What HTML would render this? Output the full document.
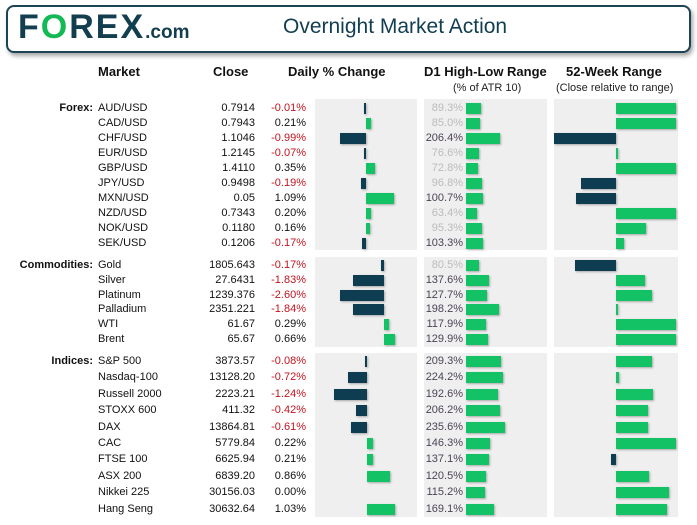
<!DOCTYPE html>
<html><head><meta charset="utf-8">
<style>
body{margin:0;width:697px;height:525px;background:#fff;font-family:"Liberation Sans",Arial,sans-serif;position:relative;overflow:hidden}
.a{position:absolute;white-space:nowrap}
#hdr{left:6px;top:5px;width:681px;height:44px;border:2px solid #1d4455;border-radius:8px;box-shadow:2px 3px 4px rgba(0,0,0,0.35);background:#fff}
.logo{left:18px;top:8px;font-size:34px;font-weight:bold;color:#123e50;letter-spacing:2px}
.com{font-size:19px;letter-spacing:0}
.title{left:283px;top:15px;font-size:21px;color:#123e50}
.ch{font-size:13px;font-weight:bold;color:#111;top:64px}
.sub{font-size:11px;color:#222;top:82px}
.panel{position:absolute;background:#efefef}
.t{position:absolute;font-size:11px;color:#111;line-height:12px;white-space:nowrap}
.neg{color:#c0151f}
.bar{position:absolute;height:11px;box-shadow:1px 1px 2px rgba(0,0,0,0.3)}
</style></head><body>
<div class="a" id="hdr"></div>
<div class="a logo">F<span style="color:#13b955">O</span>REX<span class="com">.com</span></div>
<div class="a title">Overnight Market Action</div>
<div class="a ch" style="left:98px">Market</div>
<div class="a ch" style="left:213px">Close</div>
<div class="a ch" style="left:288px">Daily % Change</div>
<div class="a ch" style="left:424px">D1 High-Low Range</div>
<div class="a sub" style="left:453px">(% of ATR 10)</div>
<div class="a ch" style="left:566px">52-Week Range</div>
<div class="a sub" style="left:556px">(Close relative to range)</div>
<div id="root"></div>
<script>
const forexNames=["AUD/USD","CAD/USD","CHF/USD","EUR/USD","GBP/USD","JPY/USD","MXN/USD","NZD/USD","NOK/USD","SEK/USD"];
const forexClose=["0.7914","0.7943","1.1046","1.2145","1.4110","0.9498","0.05","0.7343","0.1180","0.1206"];
const forexChange=[-0.01,0.21,-0.99,-0.07,0.35,-0.19,1.09,0.20,0.16,-0.17];
const forexAtr=[89.3,85.0,206.4,76.6,72.8,96.8,100.7,63.4,95.3,103.3];
const forexWeek=[1,1,-1.03,0.01,1,-0.58,-0.67,1,0.5,0.13];

const commNames=["Gold","Silver","Platinum","Palladium","WTI","Brent"];
const commClose=["1805.643","27.6431","1239.376","2351.221","61.67","65.67"];
const commChange=[-0.17,-1.83,-2.60,-1.84,0.29,0.66];
const commAtr=[80.5,137.6,127.7,198.2,117.9,129.9];
const commWeek=[-0.68,0.48,0.6,0.03,1,1];

const idxNames=["S&P 500","Nasdaq-100","Russell 2000","STOXX 600","DAX","CAC","FTSE 100","ASX 200","Nikkei 225","Hang Seng"];
const idxClose=["3873.57","13128.20","2223.21","411.32","13864.81","5779.84","6625.94","6839.20","30156.03","30632.64"];
const idxChange=[-0.08,-0.72,-1.24,-0.42,-0.61,0.22,0.21,0.86,0.00,1.03];
const idxAtr=[209.3,224.2,192.6,206.2,235.6,146.3,137.1,120.5,115.2,169.1];
const idxWeek=[0.6,0.05,0.62,0.53,0.53,1,-0.08,0.55,0.88,0.85];

const GREEN="#12c265",DARK="#0e3d52";
const root=document.getElementById('root');
function el(cls,style,txt){const d=document.createElement('div');d.className=cls;d.style.cssText=style;if(txt!==undefined)d.textContent=txt;root.appendChild(d);return d;}
function section(key,label,names,close,chg,atr,week,top,bottom,y0,dy,zero,scale){
  let p;
  p=el('panel',`left:315px;top:${top}px;width:102px;height:${bottom-top}px`);
  
  
  p=el('panel',`left:424px;top:${top}px;width:123px;height:${bottom-top}px`);
  
  
  p=el('panel',`left:554px;top:${top}px;width:124px;height:${bottom-top}px`);
  
  
  const lb=el('t',`right:${697-93}px;top:${y0-6}px;font-weight:bold`,label);
  
  
  names.forEach((n,i)=>{
    const y=y0+i*dy;
    let e=el('t',`left:98px;top:${y-6}px`,n);
    
    
    e=el('t',`right:${697-255}px;top:${y-6}px`,close[i]);
    
    
    const c=chg[i];
    e=el('t'+(c<0?' neg':''),`right:${697-306}px;top:${y-6}px`,c.toFixed(2)+'%');
    
    
    let w=Math.max(Math.abs(c)*scale,c===0?0:2);
    if(w>0){
      e=el('bar',`top:${y-5}px;height:11px;left:${c<0?zero-w:zero}px;width:${w}px;background:${c<0?DARK:GREEN}`);
      
      
    }
    const a=atr[i];
    e=el('t',`right:${697-463}px;top:${y-6}px;color:${a<100?'#bbbbbb':'#4d4457'}`,a.toFixed(1)+'%');
    
    
    e=el('bar',`top:${y-5}px;left:466px;width:${a*0.167}px;background:${GREEN}`);
    
    
    const v=week[i];
    w=Math.max(Math.abs(v)*60,2);
    e=el('bar',`top:${y-5}px;left:${v<0?616-w:616}px;width:${w}px;background:${v<0?DARK:GREEN}`);
    
    
  });
}
section('forex','Forex:',forexNames,forexClose,forexChange,forexAtr,forexWeek,99,250,108,15,366,26);
section('commodities','Commodities:',commNames,commClose,commChange,commAtr,commWeek,257,347,265,14.8,384,17);
section('indices','Indices:',idxNames,idxClose,idxChange,idxAtr,idxWeek,353,517,361,16.4,367,27);
</script>
</body></html>
